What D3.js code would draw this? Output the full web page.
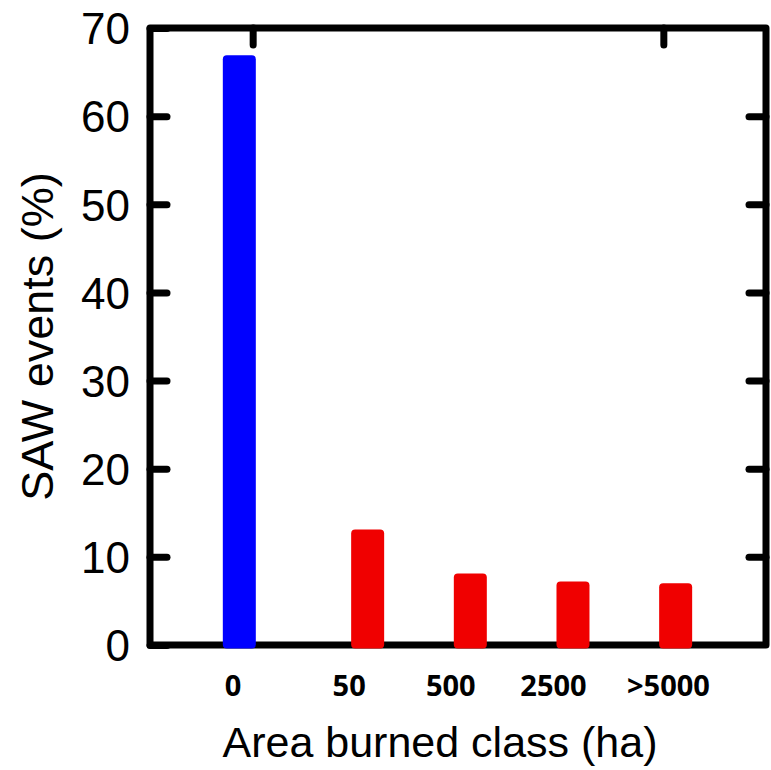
<!DOCTYPE html>
<html>
<head>
<meta charset="utf-8">
<script src="https://cdn.jsdelivr.net/npm/d3@7"></script>
<style>
  body { margin: 0; background: #fff; }
  .tick line { stroke: #000; stroke-width: 7; stroke-linecap: round; }
  .tick text { font-family: "Liberation Sans", Arial, sans-serif; font-size: 44px; fill: #000; }
</style>
</head>
<body>
<div id="chart"></div>
<script>
var width = 771,
  height = 770;

// area burned classes (ha) and share of SAW events (%)
var classes = ["0", "50", "500", "2500", ">5000"];
var events = [66.9, 13.1, 8.1, 7.2, 7.0];
var classPos = [0.87, 2.12, 3.12, 4.12, 5.12];
var labelPos = [0.81, 1.94, 2.93, 3.93, 5.05];
var barColors = ["#0000ff", "#f00000", "#f00000", "#f00000", "#f00000"];
var yTicks = [0, 10, 20, 30, 40, 50, 60, 70];
var topTicks = [1, 5];

var plotLeft = 150, plotRight = 766, plotTop = 28, plotBottom = 645;

var x = d3.scaleLinear()
  .domain([0, 6])
  .range([plotLeft, plotRight]);

var y = d3.scaleLinear()
  .domain([0, 70])
  .range([plotBottom, plotTop]);

var svg = d3.select("#chart")
  .append("svg")
  .attr("width", width)
  .attr("height", height);

// frame
svg.append("rect")
  .attr("x", plotLeft)
  .attr("y", plotTop)
  .attr("width", plotRight - plotLeft)
  .attr("height", plotBottom - plotTop)
  .attr("fill", "none")
  .attr("stroke", "#000")
  .attr("stroke-width", 7)
  .attr("stroke-linejoin", "round");

// left axis, inward ticks with labels
svg.append("g")
  .attr("transform", "translate(" + plotLeft + ",0)")
  .call(d3.axisLeft(y).tickValues(yTicks).tickSize(-17).tickPadding(20))
  .call(function (g) { g.select(".domain").remove(); })
  .call(function (g) { g.selectAll(".tick text").attr("dy", "0.36em"); });

// right axis, ticks only
svg.append("g")
  .attr("transform", "translate(" + plotRight + ",0)")
  .call(d3.axisRight(y).tickValues(yTicks.slice(1, -1)).tickSize(-17).tickFormat(""))
  .call(function (g) { g.select(".domain").remove(); });

// top axis, ticks only
svg.append("g")
  .attr("transform", "translate(0," + plotTop + ")")
  .call(d3.axisTop(x).tickValues(topTicks).tickSize(-17).tickFormat(""))
  .call(function (g) { g.select(".domain").remove(); });

// bars
svg.append("g")
  .selectAll("rect")
  .data(events)
  .enter()
  .append("rect")
  .attr("x", function (d, i) { return x(classPos[i]) - 16.5; })
  .attr("width", 33)
  .attr("y", function (d) { return y(d); })
  .attr("height", function (d) { return y(0) - y(d) + 3.5; })
  .attr("rx", 4)
  .attr("fill", function (d, i) { return barColors[i]; });

// class labels
svg.append("g")
  .selectAll("text")
  .data(classes)
  .enter()
  .append("text")
  .attr("x", function (d, i) { return x(labelPos[i]); })
  .attr("y", 696)
  .attr("text-anchor", "middle")
  .style("font-family", "'Open Sans', sans-serif")
  .style("font-weight", "bold")
  .style("font-size", "29px")
  .text(function (d) { return d; });

// axis titles
svg.append("text")
  .attr("x", (plotLeft + plotRight) / 2 - 18)
  .attr("y", 757)
  .attr("text-anchor", "middle")
  .style("font-family", "'Liberation Sans', Arial, sans-serif")
  .style("font-size", "43px")
  .text("Area burned class (ha)");

svg.append("text")
  .attr("transform", "translate(53," + ((plotTop + plotBottom) / 2) + ")rotate(-90)")
  .attr("text-anchor", "middle")
  .style("font-family", "'Liberation Sans', Arial, sans-serif")
  .style("font-size", "45px")
  .text("SAW events (%)");
</script>
</body>
</html>
